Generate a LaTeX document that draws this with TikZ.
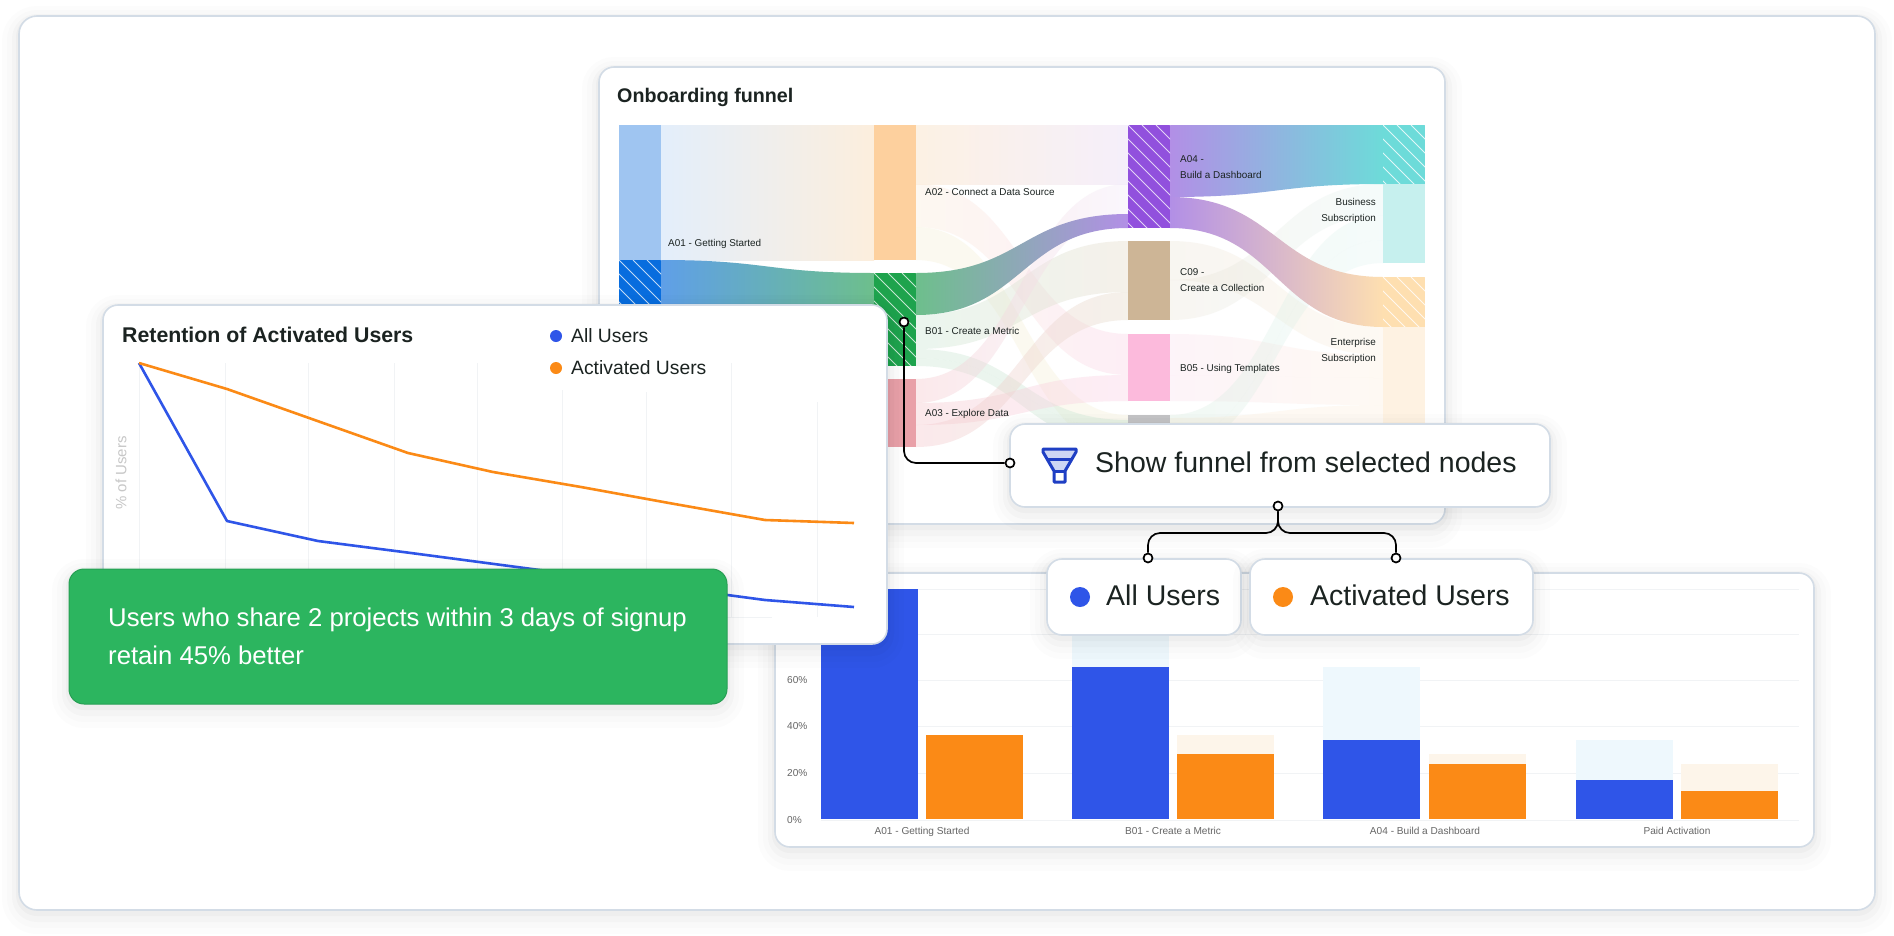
\documentclass[tikz,border=0pt]{standalone}
\usepackage{fontspec}
\setmainfont{Liberation Sans}
\usepackage{xcolor}
\definecolor{inkdark}{HTML}{1B2321}
\definecolor{cardline}{HTML}{D3DCE6}
\definecolor{gridline}{HTML}{F1F3F5}
\definecolor{mainblue}{HTML}{2F55E8}
\definecolor{mainorange}{HTML}{FB8A16}
\definecolor{paleblue}{HTML}{EEF8FD}
\definecolor{paleorange}{HTML}{FDF5EA}
\definecolor{cardgreen}{HTML}{2CB55F}
\definecolor{flowpurple}{HTML}{B28FE6}
\definecolor{flowteal}{HTML}{6DDBD9}
\definecolor{flowsand}{HTML}{FEDFB0}
\definecolor{flowgreen}{HTML}{6DBF8C}
\definecolor{flowblue}{HTML}{5F9FE8}
\definecolor{paleazure}{HTML}{E3EEFB}
\definecolor{palepeach}{HTML}{FCEEDD}
\definecolor{palelilac}{HTML}{F3ECFA}
\definecolor{palerose}{HTML}{F5C9CE}
\definecolor{palepink}{HTML}{FBD5E8}
\definecolor{palemint}{HTML}{CDE8D6}
\definecolor{palelemon}{HTML}{F3EBC4}
\definecolor{paletan}{HTML}{E6DCCB}
\definecolor{palesky}{HTML}{D9F2F0}
\definecolor{palecream}{HTML}{FCEBD2}
\definecolor{iconblue}{HTML}{1F3FC4}
\definecolor{iconpale}{HTML}{CDD6F4}
\definecolor{barsky}{HTML}{9FC5F1}
\definecolor{barazure}{HTML}{086DDE}
\definecolor{barpeach}{HTML}{FDD09E}
\definecolor{bargreen}{HTML}{1EA34D}
\definecolor{barrose}{HTML}{E9A0A8}
\definecolor{barviolet}{HTML}{9150DD}
\definecolor{bartan}{HTML}{CDB596}
\definecolor{barpink}{HTML}{FCBADC}
\definecolor{bargray}{HTML}{C4C4C6}
\definecolor{baraqua}{HTML}{C6F0EE}
\definecolor{barcream}{HTML}{FEF2E2}
\tikzset{
  softshadow/.style={
    preaction={draw=black,draw opacity=.010,line width=34pt,transform canvas={yshift=-7pt}},
    preaction={draw=black,draw opacity=.013,line width=24pt,transform canvas={yshift=-6pt}},
    preaction={draw=black,draw opacity=.018,line width=14pt,transform canvas={yshift=-5pt}},
    preaction={draw=black,draw opacity=.024,line width=6pt,transform canvas={yshift=-3pt}}},
  cardbox/.style={draw=cardline,fill=white,line width=1.6pt,rounded corners=15pt,anchor=north west,inner sep=0,outer sep=0,softshadow},
  cardtitle/.style={font=\fontsize{21.3}{21.3}\selectfont\bfseries,text=inkdark,anchor=west,inner sep=0,text height=17.8pt,text depth=3pt},
  flowlabel/.style={font=\fontsize{9.9}{9.9}\selectfont,text=inkdark,anchor=west,inner sep=0,text height=8.9pt,text depth=1.5pt},
  flowlabelr/.style={flowlabel,anchor=east},
  axislabel/.style={font=\fontsize{10.1}{10.1}\selectfont,text=black!60,inner sep=0,text height=8.9pt,text depth=1.5pt},
  legendtext/.style={font=\fontsize{19.3}{19.3}\selectfont,text=inkdark,anchor=west,inner sep=0,text height=15.4pt,text depth=3pt},
  buttontext/.style={font=\fontsize{28.5}{28.5}\selectfont,text=inkdark,anchor=west,inner sep=0,text height=22pt,text depth=3.2pt},
  insighttext/.style={font=\fontsize{25.7}{25.7}\selectfont,text=white,anchor=west,inner sep=0,text height=20pt,text depth=3.4pt},
  softflow/.style={fill opacity=.4},
  faintflow/.style={fill opacity=.25},
  linkdot/.style={circle,draw=black,fill=white,line width=1.7pt,minimum size=9pt,inner sep=0},
  linkline/.style={draw=black,line width=1.7pt,rounded corners=12pt},
  chartline/.style={line width=2.6pt,line join=round},
}
\newcommand{\sankeyflow}[9][]{%
  \shade[left color=#8,right color=#9,#1]
    (#2,#3) .. controls ({(#2+#5)/2},#3) and ({(#2+#5)/2},#6) .. (#5,#6)
    -- (#5,#7) .. controls ({(#2+#5)/2},#7) and ({(#2+#5)/2},#4) .. (#2,#4) -- cycle;}
\newcommand{\hatchbar}[6]{%
  \fill[#5] (#1,#2) rectangle (#3,#4);
  \begin{scope}
    \clip (#1,#2) rectangle (#3,#4);
    \foreach \k in {-16,...,16}
      \draw[white,line width=.8pt,opacity=#6] ({#1+14*\k},#2) -- ++(220,220);
  \end{scope}}
\begin{document}
\begin{tikzpicture}[x=1pt,y=-1pt]
\useasboundingbox (0,0) rectangle (1894,935);
\fill[white] (0,0) rectangle (1894,935);
\node[cardbox,rounded corners=18pt,minimum width=1856pt,minimum height=894pt] (outercard) at (19,16) {};

\node[cardbox,minimum width=846pt,minimum height=457pt] (onboardcard) at (599,67) {};
\node[cardtitle,font=\fontsize{19.7}{19.7}\selectfont\bfseries] (onboardtitle) at (617,95) {Onboarding funnel};

\sankeyflow{661}{125}{260}{874}{125}{260}{paleazure}{palepeach}
\sankeyflow{661}{260}{420}{874}{273}{420}{flowblue}{flowgreen}

\sankeyflow[fill opacity=.8]{916}{125}{184}{1128}{125}{184}{palepeach}{palelilac}
\sankeyflow[softflow]{916}{184}{227}{1128}{334}{375}{palepeach}{palepink}
\sankeyflow[faintflow]{916}{227}{260}{1128}{415}{450}{palelemon}{palelemon}
\sankeyflow[softflow]{916}{315}{349}{1128}{241}{292}{palemint}{paletan}
\sankeyflow[softflow]{916}{349}{358}{1128}{420}{430}{palemint}{palemint}
\sankeyflow[softflow]{916}{358}{366}{1128}{430}{445}{palemint}{palemint}
\sankeyflow[softflow]{916}{379}{403}{1128}{184}{214}{palerose}{palelilac}
\sankeyflow[softflow]{916}{403}{425}{1128}{375}{401}{palerose}{palepink}
\sankeyflow[softflow]{916}{425}{447}{1128}{292}{320}{palerose}{paletan}
\sankeyflow{916}{273}{315}{1128}{214}{228}{flowgreen}{flowpurple}

\sankeyflow[faintflow]{1170}{241}{280}{1383}{327}{355}{paletan}{palecream}
\sankeyflow[faintflow]{1170}{280}{320}{1383}{184}{215}{paletan}{palesky}
\sankeyflow[faintflow]{1170}{334}{375}{1383}{355}{378}{palepink}{palecream}
\sankeyflow[faintflow]{1170}{375}{401}{1383}{378}{405}{palepink}{palecream}
\sankeyflow[faintflow]{1170}{415}{440}{1383}{215}{240}{palemint}{palesky}
\sankeyflow[faintflow]{1170}{440}{450}{1383}{240}{263}{palemint}{palesky}
\sankeyflow[faintflow]{1170}{418}{450}{1383}{405}{450}{palecream}{palecream}
\sankeyflow{1170}{125}{197}{1383}{125}{184}{flowpurple}{flowteal}
\sankeyflow{1170}{197}{228}{1383}{277}{327}{flowpurple}{flowsand}

\fill[barsky] (619,125) rectangle (661,260);
\hatchbar{619}{260}{661}{420}{barazure}{.75}
\fill[barpeach] (874,125) rectangle (916,260);
\hatchbar{874}{273}{916}{366}{bargreen}{.75}
\fill[barrose] (874,379) rectangle (916,447);
\hatchbar{1128}{125}{1170}{228}{barviolet}{.75}
\fill[bartan] (1128,241) rectangle (1170,320);
\fill[barpink] (1128,334) rectangle (1170,401);
\fill[bargray] (1128,415) rectangle (1170,450);
\hatchbar{1383}{125}{1425}{184}{flowteal}{.8}
\fill[baraqua] (1383,184) rectangle (1425,263);
\hatchbar{1383}{277}{1425}{327}{flowsand}{.8}
\fill[barcream] (1383,327) rectangle (1425,450);

\node[flowlabel] (labela01) at (668,243) {A01 - Getting Started};
\node[flowlabel] (labela02) at (925,192) {A02 - Connect a Data Source};
\node[flowlabel] (labelb01) at (925,331) {B01 - Create a Metric};
\node[flowlabel] (labela03) at (925,413) {A03 - Explore Data};
\node[flowlabel] (labela04a) at (1180,159) {A04 -};
\node[flowlabel] (labela04b) at (1180,175) {Build a Dashboard};
\node[flowlabel] (labelc09a) at (1180,272) {C09 -};
\node[flowlabel] (labelc09b) at (1180,288) {Create a Collection};
\node[flowlabel] (labelb05) at (1180,368) {B05 - Using Templates};
\node[flowlabelr] (labelbusa) at (1376,202) {Business};
\node[flowlabelr] (labelbusb) at (1376,218) {Subscription};
\node[flowlabelr] (labelenta) at (1376,342) {Enterprise};
\node[flowlabelr] (labelentb) at (1376,358) {Subscription};

\node[cardbox,minimum width=1039pt,minimum height=274pt] (barcard) at (775,573) {};
\foreach \ygrid in {589,634,680,726,773,820}
  \draw[gridline,line width=1pt] (821,\ygrid) -- (1799,\ygrid);
\foreach \xbar/\ysolid/\ylight in {821/589/589,1072/667/560,1323/740/667,1576/780/740}{
  \fill[paleblue] (\xbar,\ylight) rectangle ++(97,{819-\ylight});
  \fill[mainblue] (\xbar,\ysolid) rectangle ++(97,{819-\ysolid});
}
\foreach \xbar/\ysolid/\ylight in {926/735/735,1177/754/735,1429/764/754,1681/791/764}{
  \fill[paleorange] (\xbar,\ylight) rectangle ++(97,{819-\ylight});
  \fill[mainorange] (\xbar,\ysolid) rectangle ++(97,{819-\ysolid});
}
\node[axislabel,anchor=west] (tick60) at (787,680) {60\%};
\node[axislabel,anchor=west] (tick40) at (787,726) {40\%};
\node[axislabel,anchor=west] (tick20) at (787,773) {20\%};
\node[axislabel,anchor=west] (tick0) at (787,820) {0\%};
\node[axislabel] (namea01) at (922,831) {A01 - Getting Started};
\node[axislabel] (nameb01) at (1173,831) {B01 - Create a Metric};
\node[axislabel] (namea04) at (1425,831) {A04 - Build a Dashboard};
\node[axislabel] (namepaid) at (1677,831) {Paid Activation};

\node[cardbox,minimum width=784pt,minimum height=339pt] (retentioncard) at (103,305) {};
\node[cardtitle] (retentiontitle) at (122,335) {Retention of Activated Users};
\foreach \xgrid/\ytop in {139/363,225/363,308/363,394/363,477/363,562/390,646/392,731/363,817/402}
  \draw[gridline,line width=1pt] (\xgrid,\ytop) -- (\xgrid,617);
\draw[gridline,line width=1pt] (139,617) -- (772,617);
\node[rotate=90,font=\fontsize{15}{15}\selectfont,text=black!22,inner sep=0] (axisusers) at (121,473) {\% of Users};
\draw[mainblue,chartline] (139,363) -- (227,521) -- (318,541) -- (411,553) -- (532,569) -- (765,600) -- (854,607);
\draw[mainorange,chartline] (139,363) -- (227,389) -- (408,453) -- (493,472) -- (581,487) -- (669,503) -- (765,520) -- (854,523);
\fill[mainblue] (556,336) circle (6);
\fill[mainorange] (556,368) circle (6);
\node[legendtext] (legendall) at (571,336) {All Users};
\node[legendtext] (legendact) at (571,368) {Activated Users};

\node[cardbox,draw=cardgreen!88!black,fill=cardgreen,line width=1pt,minimum width=658pt,minimum height=135pt] (insightbox) at (69,569) {};
\node[insighttext] (insighta) at (108,618) {Users who share 2 projects within 3 days of signup};
\node[insighttext] (insightb) at (108,656) {retain 45\% better};

\node[cardbox,minimum width=540pt,minimum height=83pt] (funnelbox) at (1010,424) {};
\fill[iconpale] (1044,450) -- (1075,450) -- (1065,471) -- (1054,471) -- cycle;
\draw[iconblue,line width=3pt,line join=round] (1043,449) -- (1076,449) -- (1076,452) -- (1065,471) -- (1065,482) -- (1054,482) -- (1054,471) -- (1043,452) -- cycle;
\draw[iconblue,line width=3pt] (1048,459) -- (1071,459);
\draw[iconblue,line width=3pt] (1054,471) -- (1065,471);
\node[buttontext] (funneltext) at (1095,463) {Show funnel from selected nodes};

\node[linkdot] (nodedot) at (904,322) {};
\node[linkdot] (funneldot) at (1010,463) {};
\draw[linkline] (nodedot) |- (funneldot);

\node[cardbox,minimum width=194pt,minimum height=76pt] (allbox) at (1047,559) {};
\node[cardbox,minimum width=283pt,minimum height=76pt] (activatedbox) at (1250,559) {};
\fill[mainblue] (1080,597) circle (10);
\fill[mainorange] (1283,597) circle (10);
\node[buttontext] (alltext) at (1106,596) {All Users};
\node[buttontext] (activatedtext) at (1310,596) {Activated Users};

\node[linkdot] (forkdot) at (1278,506) {};
\node[linkdot] (alldot) at (1148,558) {};
\node[linkdot] (activateddot) at (1396,558) {};
\coordinate (forkleft) at (1148,533);
\coordinate (forkright) at (1396,533);
\draw[linkline] (forkdot) |- (forkleft) -- (alldot);
\draw[linkline] (forkdot) |- (forkright) -- (activateddot);
\end{tikzpicture}
\end{document}
